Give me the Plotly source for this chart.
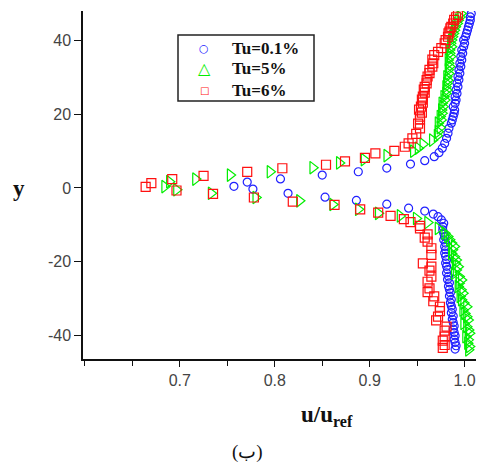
import plotly.graph_objects as go

# Tu = 0.1 %  (blue circles)
u_tu01 = [0.757, 0.771, 0.777, 0.806, 0.814,
          0.850, 0.888, 0.918, 0.943, 0.958, 0.968, 0.973, 0.9765, 0.979, 0.981, 0.9825, 0.9835, 0.986,
          0.987, 0.988, 0.989, 0.9895, 0.988, 0.990, 0.991, 0.990, 0.992, 0.991, 0.993, 0.992, 0.994,
          0.993, 0.995, 0.994, 0.996, 0.995, 0.997, 0.996, 0.998, 0.997, 0.999, 1.000, 0.999, 1.001,
          1.002, 1.003, 1.004, 1.005, 1.006, 1.006, 1.007,
          0.853, 0.886, 0.918, 0.941, 0.958, 0.967, 0.972, 0.9755, 0.978,
          0.977, 0.977, 0.978, 0.979, 0.978, 0.980, 0.979, 0.980, 0.979, 0.980, 0.981, 0.980, 0.981,
          0.982, 0.981, 0.983, 0.982, 0.984, 0.983, 0.984, 0.985, 0.984, 0.986, 0.985, 0.986, 0.987,
          0.986, 0.988, 0.987, 0.988, 0.989, 0.988, 0.989, 0.990, 0.989, 0.990, 0.991, 0.990]
y_tu01 = [0.45, 1.6, -0.3, 2.45, -1.45,
          3.5, 4.4, 5.4, 6.5, 7.4, 8.5, 9.6, 10.8, 12.1, 13.5, 14.9, 16.2, 17.6,
          18.5, 19.4, 20.3, 21.2, 22.1, 23.0, 23.9, 24.8, 25.7, 26.6, 27.5, 28.5, 29.4,
          30.3, 31.2, 32.1, 33.0, 33.9, 34.8, 35.7, 36.6, 37.5, 38.4, 39.3, 40.2, 41.1,
          42.0, 42.9, 43.8, 44.7, 45.6, 46.5, 47.4,
          -2.5, -3.4, -4.4, -5.5, -6.3, -7.1, -7.8, -8.7, -9.6,
          -10.5, -11.4, -12.3, -13.2, -14.1, -15.0, -15.9, -16.8, -17.7, -18.6, -19.5, -20.4, -21.3,
          -22.2, -23.1, -24.0, -24.9, -25.8, -26.7, -27.6, -28.5, -29.4, -30.3, -31.2, -32.1, -33.0,
          -33.9, -34.8, -35.7, -36.6, -37.5, -38.4, -39.3, -40.2, -41.1, -42.0, -42.9, -43.8]

# Tu = 5 %  (green triangles)
u_tu5 = [0.684, 0.689, 0.6965, 0.7165, 0.733, 0.753, 0.780, 0.795, 0.826,
         0.840, 0.868, 0.894, 0.918, 0.946, 0.951, 0.956, 0.966, 0.971, 0.972, 0.974, 0.972, 0.975,
         0.974, 0.976, 0.9755, 0.977, 0.976, 0.979, 0.978, 0.980, 0.981, 0.980, 0.981, 0.982, 0.981,
         0.983, 0.9825, 0.984, 0.983, 0.9825, 0.985, 0.984, 0.984, 0.986, 0.985, 0.986, 0.987, 0.988,
         0.989, 0.990, 0.992, 0.993, 0.995, 0.996,
         0.861, 0.888, 0.909, 0.932, 0.949, 0.961, 0.972, 0.979, 0.982, 0.984, 0.986, 0.989,
         0.987, 0.986, 0.989, 0.991, 0.990, 0.993, 0.991, 0.989, 0.994, 0.9965, 0.994, 0.993, 0.996,
         0.998, 0.995, 0.9965, 0.999, 1.002, 0.998, 1.000, 1.002, 1.0035, 0.999, 1.002, 1.004, 1.005,
         1.001, 1.0035, 1.003, 1.005, 1.004]
y_tu5 = [0.36, 1.7, -0.5, 2.4, -1.45, 3.5, -2.6, 4.4, -3.5,
         5.5, 6.8, 7.7, 8.8, 10.0, 10.8, 11.9, 13.0, 14.2, 15.3, 16.4, 17.6, 18.5,
         19.4, 20.3, 21.2, 22.1, 23.0, 23.9, 24.8, 25.7, 26.6, 27.5, 28.4, 29.3, 30.2,
         31.1, 32.1, 33.0, 33.9, 34.8, 35.7, 36.6, 37.5, 38.4, 39.3, 40.2, 41.1, 42.0,
         42.9, 43.8, 44.7, 45.6, 46.5, 47.4,
         -4.5, -5.8, -6.9, -7.6, -8.3, -9.4, -11.0, -12.3, -13.2, -14.1, -15.0, -15.9,
         -16.8, -17.8, -18.7, -19.6, -20.5, -21.4, -22.3, -23.2, -24.1, -25.0, -25.9, -26.8, -27.7,
         -28.6, -29.5, -30.4, -31.3, -32.3, -33.2, -34.1, -35.0, -35.9, -36.8, -37.7, -38.6, -39.5,
         -40.4, -41.3, -42.2, -43.1, -44.0]

# Tu = 6 %  (red squares)
u_tu6 = [0.664, 0.670, 0.692, 0.6965, 0.725, 0.735, 0.771, 0.778, 0.808, 0.819,
         0.854, 0.874, 0.895, 0.906, 0.926, 0.937, 0.941, 0.945, 0.949, 0.953, 0.951, 0.953, 0.953,
         0.955, 0.952, 0.954, 0.956, 0.955, 0.956, 0.958, 0.957, 0.958, 0.960, 0.960, 0.961, 0.963,
         0.963, 0.966, 0.967, 0.966, 0.968, 0.972, 0.9755, 0.979, 0.980, 0.9825, 0.983, 0.984, 0.985,
         0.986, 0.988, 0.989, 0.991, 0.993,
         0.863, 0.890, 0.909, 0.922, 0.936, 0.943, 0.953, 0.953, 0.961, 0.958, 0.961, 0.965, 0.965,
         0.956, 0.965, 0.963, 0.965, 0.961, 0.963, 0.961, 0.968, 0.967, 0.974, 0.974, 0.972, 0.970,
         0.981, 0.979, 0.979, 0.977, 0.979, 0.977]
y_tu6 = [0.27, 1.3, 2.4, -0.7, 3.3, -1.6, 4.35, -2.6, 5.35, -3.7,
         6.3, 7.2, 8.15, 9.4, 10.1, 11.2, 12.1, 13.5, 14.7, 16.2, 17.5, 18.6, 19.4,
         20.5, 21.3, 22.1, 23.2, 24.0, 24.8, 25.9, 26.7, 27.5, 28.4, 29.3, 30.3, 31.2,
         32.1, 33.0, 33.9, 34.9, 36.1, 37.0, 38.0, 39.3, 40.2, 41.1, 42.0, 42.5, 43.4,
         43.8, 44.7, 45.7, 46.4, 47.0,
         -4.6, -5.8, -6.7, -7.6, -8.5, -9.3, -10.3, -11.0, -12.6, -13.5, -14.6, -16.4, -18.2,
         -20.5, -21.4, -22.5, -24.1, -25.5, -27.3, -28.3, -29.5, -30.8, -32.3, -33.5, -35.0, -36.0,
         -37.7, -38.8, -40.4, -41.5, -42.7, -43.5]

series_names = ["Tu=0.1%", "Tu=5%", "Tu=6%"]
legend_glyphs = ["○", "△", "□"]
x_tickvals = [0.7, 0.8, 0.9, 1.0]
x_ticktext = ["0.7", "0.8", "0.9", "1.0"]
y_tickvals = [-40, -20, 0, 20, 40]
y_ticktext = ["-40", "-20", "0", "20", "40"]

BLUE = "#2020ff"
GREEN = "#00ee00"
RED = "#ff1010"
colors = [BLUE, GREEN, RED]

# plot area in pixels
L, R, T, B = 83, 1, 11, 107
W, H = 477, 466
PW, PH = W - L - R, H - T - B


def px(xp):
    return (xp - L) / PW


def py(yp):
    return (H - B - yp) / PH


fig = go.Figure()

fig.add_trace(go.Scatter(x=u_tu01, y=y_tu01, mode="markers", name=series_names[0], showlegend=False,
                         marker=dict(symbol="circle-open", size=8, color=BLUE, line=dict(width=1.2, color=BLUE))))
fig.add_trace(go.Scatter(x=u_tu5, y=y_tu5, mode="markers", name=series_names[1], showlegend=False,
                         marker=dict(symbol="triangle-right-open", size=11, color=GREEN, line=dict(width=1.2, color=GREEN))))
fig.add_trace(go.Scatter(x=u_tu6, y=y_tu6, mode="markers", name=series_names[2], showlegend=False,
                         marker=dict(symbol="square-open", size=9, color=RED, line=dict(width=1.2, color=RED))))

fig.update_layout(
    width=W, height=H,
    margin=dict(l=L, r=R, t=T, b=B, autoexpand=False),
    paper_bgcolor="white", plot_bgcolor="white",
    showlegend=False,
    xaxis=dict(range=[0.598, 1.012], showgrid=False, zeroline=False, automargin=False,
               showline=True, linecolor="#111", linewidth=1.5,
               tickmode="array", tickvals=x_tickvals, ticktext=x_ticktext,
               ticks="outside", ticklen=6, tickcolor="#111", tickwidth=1,
               minor=dict(tickmode="linear", tick0=0.6, dtick=0.05, ticks="outside", ticklen=5, tickcolor="#111"),
               tickfont=dict(family="Liberation Sans, Arial, sans-serif", size=16, color="#444")),
    yaxis=dict(range=[-46.5, 48.1], showgrid=False, zeroline=False, automargin=False,
               showline=True, linecolor="#111", linewidth=1.5,
               tickmode="array", tickvals=y_tickvals, ticktext=y_ticktext,
               ticks="outside", ticklen=7, tickcolor="#111", tickwidth=1,
               tickfont=dict(family="Liberation Sans, Arial, sans-serif", size=16, color="#444")),
)

# legend box
fig.add_shape(type="rect", xref="paper", yref="paper",
              x0=px(178), x1=px(314), y0=py(101), y1=py(35),
              line=dict(color="#222", width=1.5), fillcolor="white", layer="above")
legend_rows = [48, 69, 90]
glyph_sizes = [11, 16, 10]
for i in range(3):
    fig.add_annotation(xref="paper", yref="paper", x=px(204), y=py(legend_rows[i]),
                       text=legend_glyphs[i], showarrow=False, xanchor="center", yanchor="middle",
                       font=dict(family="DejaVu Sans", size=glyph_sizes[i], color=colors[i]))
    fig.add_annotation(xref="paper", yref="paper", x=px(230), y=py(legend_rows[i]),
                       text="<b>" + series_names[i] + "</b>", showarrow=False, xanchor="left", yanchor="middle",
                       font=dict(family="Liberation Serif, Times New Roman, serif", size=17, color="#111"))

fig.add_annotation(xref="paper", yref="paper", x=px(19), y=py(188),
                   text="<b>y</b>", showarrow=False, xanchor="center", yanchor="middle",
                   font=dict(family="Liberation Serif, Times New Roman, serif", size=23, color="#111"))
fig.add_annotation(xref="paper", yref="paper", x=px(327), y=py(416),
                   text="<b>u/u<sub>ref</sub></b>", showarrow=False, xanchor="center", yanchor="middle",
                   font=dict(family="Liberation Serif, Times New Roman, serif", size=23, color="#111"))
fig.add_annotation(xref="paper", yref="paper", x=px(247), y=py(452),
                   text="(ب)", showarrow=False, xanchor="center", yanchor="middle",
                   font=dict(family="Liberation Serif, Times New Roman, serif", size=19, color="#111"))

fig.write_html("out.html", config={"displayModeBar": False},
               post_script="document.body.style.margin='0px';document.body.style.overflow='hidden';")
